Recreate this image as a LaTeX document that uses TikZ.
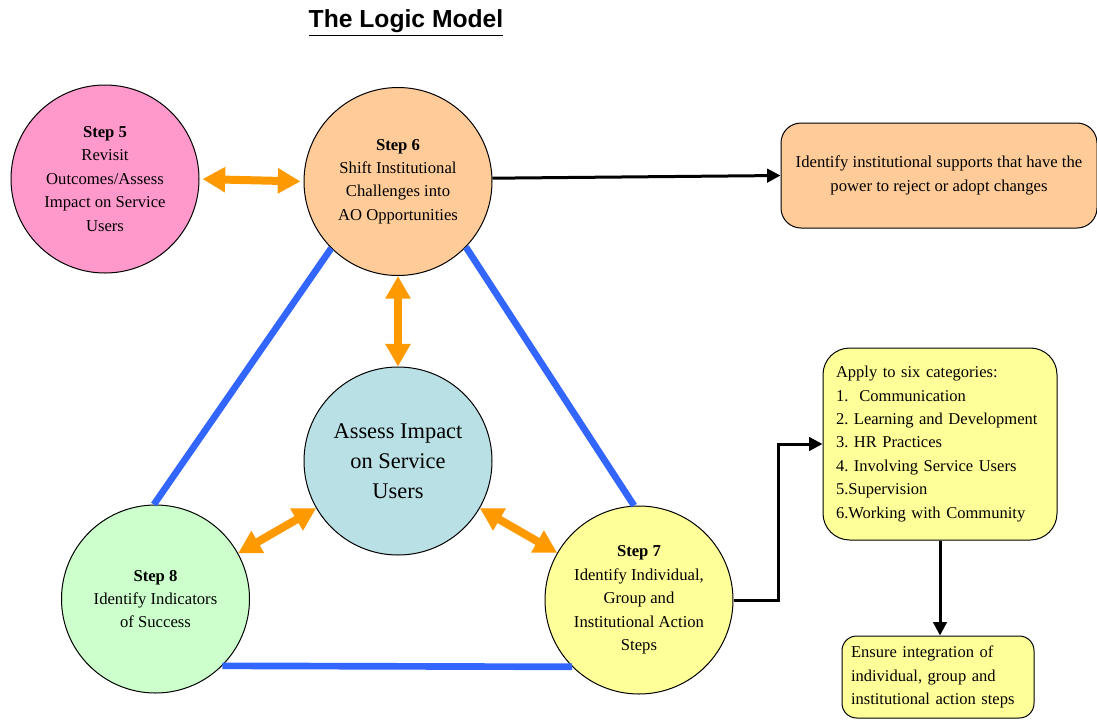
\documentclass[tikz,border=0pt]{standalone}
\usepackage{fontspec}
\setmainfont{Liberation Serif}
\newfontfamily\titlefont{Liberation Sans}
\usetikzlibrary{arrows.meta,shapes.geometric}
\definecolor{pinkc}{HTML}{FF99CC}
\definecolor{peachc}{HTML}{FFCC99}
\definecolor{tealc}{HTML}{B9E0E4}
\definecolor{greenc}{HTML}{CCFFCC}
\definecolor{yellowc}{HTML}{FFFF99}
\definecolor{orangec}{HTML}{FF9900}
\definecolor{bluec}{HTML}{3366FF}
\frenchspacing
\tikzset{
  stepnode/.style={circle, draw=black, line width=0.75pt, inner sep=0pt, align=center,
    minimum size=141pt, font=\fontsize{12.5}{17.6}\selectfont},
  infobox/.style={rectangle, draw=black, line width=0.75pt, font=\fontsize{12.4}{17.6}\selectfont},
  orangearrow/.style={draw=orangec, line width=6pt,
    {Triangle[length=17pt,width=18pt]}-{Triangle[length=17pt,width=18pt]}},
  blueline/.style={draw=bluec, line width=5pt},
  blackarrow/.style={draw=black, line width=2.25pt, -{Triangle[length=10pt,width=10pt]}}
}
\begin{document}
\begin{tikzpicture}[x=0.75pt,y=-0.75pt]
\useasboundingbox (0,0) rectangle (1097,719);

\node (title) at (406,23) {\titlefont\bfseries\fontsize{18.5}{22}\selectfont\underline{The Logic Model}};

\node[stepnode, fill=pinkc] (s5) at (105,179)
  {\textbf{Step 5}\\Revisit\\Outcomes/Assess\\Impact on Service\\Users};
\node[stepnode, fill=peachc] (s6) at (398,181.5)
  {\textbf{Step 6}\\Shift Institutional\\Challenges into\\AO Opportunities};
\node[stepnode, fill=tealc, font=\fontsize{16.8}{22.5}\selectfont] (c) at (398,461)
  {Assess Impact\\on Service\\Users};
\node[stepnode, fill=greenc] (s8) at (155.5,599)
  {\textbf{Step 8}\\Identify Indicators\\of Success};
\node[stepnode, fill=yellowc] (s7) at (639,600)
  {\textbf{Step 7}\\Identify Individual,\\Group and\\Institutional Action\\Steps};

\node[infobox, fill=peachc, rounded corners=15pt, minimum width=237pt, minimum height=78.75pt,
  align=center, inner xsep=4pt, font=\fontsize{12.5}{18}\selectfont] (b1) at (939,175.5)
  {Identify institutional supports that have the\\power to reject or adopt changes};

\node[infobox, fill=yellowc, rounded corners=20pt, minimum width=175.5pt, minimum height=144pt,
  inner xsep=9.75pt, text width=156pt, align=left] (b2) at (940,444)
  {Apply to six categories:\\
   1.\ \ Communication\\
   2. Learning and Development\\
   3. HR Practices\\
   4. Involving Service Users\\
   5.Supervision\\
   6.Working with Community};

\node[infobox, fill=yellowc, rounded corners=11pt, minimum width=144pt, minimum height=61.5pt,
  inner xsep=6.75pt, text width=130.5pt, align=left] (b3) at (938,677)
  {Ensure integration of\\individual, group and\\institutional action steps};

% blue triangle
\draw[blueline] (s6.225) -- (s8.91);
\draw[blueline] (s6.-44) -- (s7.93);
\draw[blueline] (s8.-45) -- (s7.225);

% orange double arrows
\draw[orangearrow, shorten <=2.25pt, shorten >=2.25pt] (s5.east) -- (s6.west);
\draw[orangearrow] (s6.south) -- (c.north);
\draw[orangearrow] (c.210) -- (s8.29);
\draw[orangearrow] (c.-30) -- (s7.150);

% black arrows
\draw[blackarrow] (s6.2) -- (b1.west);
\draw[blackarrow] (s7.east) -- ++(45,0) |- (b2.west);
\draw[blackarrow] (b2.south) -- (b2.south |- b3.north);
\end{tikzpicture}
\end{document}
